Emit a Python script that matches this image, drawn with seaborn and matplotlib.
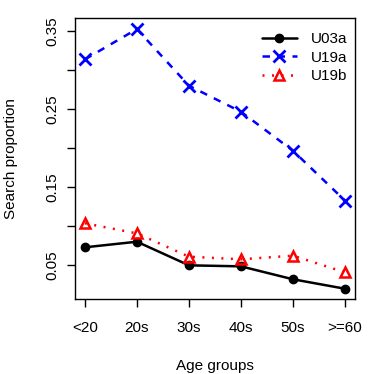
import pandas as pd
import numpy as np
import matplotlib
matplotlib.use("Agg")
import matplotlib.pyplot as plt
import seaborn as sns

# ==============================
# DATA
# ==============================
age_groups = ["<20", "20s", "30s", "40s", "50s", ">=60"]
u03a = [0.0727, 0.0799, 0.0496, 0.0483, 0.0317, 0.0196]
u19a = [0.3137, 0.3526, 0.2799, 0.2465, 0.1965, 0.1325]
u19b = [0.1035, 0.0906, 0.0607, 0.0573, 0.0620, 0.0406]

y_ticks = [0.05, 0.10, 0.15, 0.20, 0.25, 0.30, 0.35]
y_labels = ["0.05", "", "0.15", "", "0.25", "", "0.35"]

df = pd.DataFrame({"age": age_groups, "U03a": u03a, "U19a": u19a, "U19b": u19b})
long_df = df.melt(id_vars="age", var_name="series", value_name="prop")

# ==============================
# STYLE
# ==============================
sns.set_style("ticks")
plt.rcParams["font.family"] = ["Liberation Sans", "DejaVu Sans"]
plt.rcParams["font.size"] = 11
for key in ["text.color", "axes.labelcolor", "xtick.color", "ytick.color", "axes.edgecolor"]:
    plt.rcParams[key] = "black"

styles = {
    "U03a": dict(color="black", linestyle="-", marker="o", markersize=6,
                 markerfacecolor="black", markeredgecolor="black", markeredgewidth=1),
    "U19a": dict(color="blue", linestyle=(0, (3, 3)), marker="x", markersize=8,
                 markeredgecolor="blue", markeredgewidth=2),
    "U19b": dict(color="red", linestyle=(0, (0.8, 3)), marker="^", markersize=7.5,
                 markerfacecolor="none", markeredgecolor="red", markeredgewidth=1.8),
}

fig = plt.figure(figsize=(3.74, 3.74), dpi=100)
ax = fig.add_axes([0.2005, 0.2013, 0.7485, 0.7505])

for name in ["U03a", "U19a", "U19b"]:
    sub = long_df[long_df["series"] == name]
    sns.lineplot(data=sub, x="age", y="prop", ax=ax, label=name,
                 linewidth=1.8, sort=False, **styles[name])

ax.set_xlim(-0.19, 5.19)
ax.set_ylim(0.0068, 0.3667)
ax.set_yticks(y_ticks)
ax.set_yticklabels(y_labels, rotation=90, va="center")
ax.set_xticks(range(len(age_groups)))
ax.set_xticklabels(age_groups)

for s in ax.spines.values():
    s.set_visible(True)
    s.set_color("black")
    s.set_linewidth(1)

ax.tick_params(axis="both", length=6, width=1, color="black", labelcolor="black", labelsize=11)
ax.tick_params(axis="x", pad=10)
ax.tick_params(axis="y", pad=5)

ax.set_xlabel("Age groups", fontsize=11, labelpad=17, color="black")
ax.set_ylabel("Search proportion", fontsize=11, labelpad=20, color="black")

leg = ax.legend(loc="upper right", bbox_to_anchor=(1.005, 0.982), frameon=False,
                fontsize=11, handlelength=2.3, labelspacing=0.3, handletextpad=0.9,
                borderaxespad=0.3, borderpad=0.3)
for t in leg.get_texts():
    t.set_color("black")

fig.savefig("out.png", dpi=100)
